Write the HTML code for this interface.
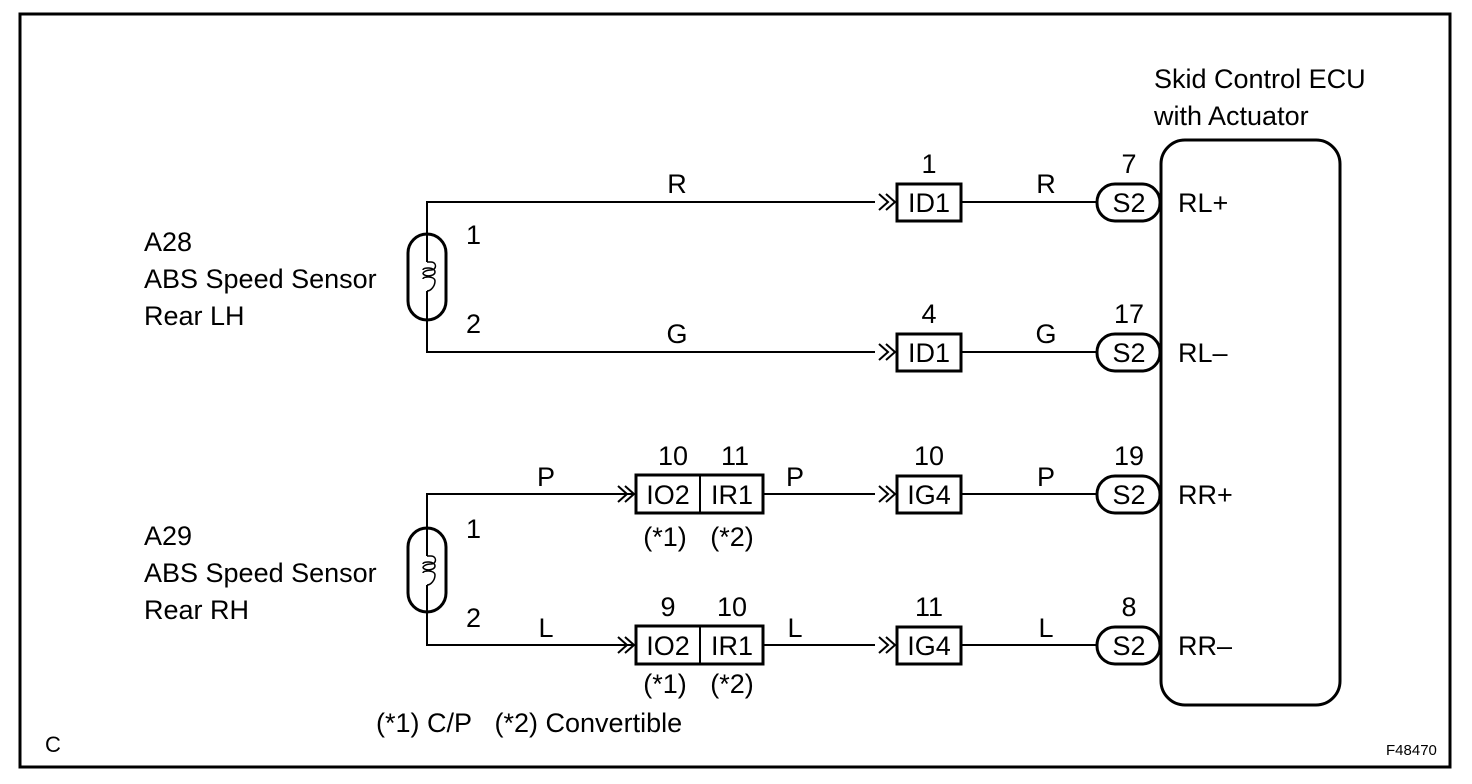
<!DOCTYPE html>
<html><head><style>body{margin:0;background:#fff}svg{display:block}</style></head><body>
<svg width="1472" height="784" viewBox="0 0 1472 784" xmlns="http://www.w3.org/2000/svg" font-family="Liberation Sans, Arial, sans-serif" font-size="27" fill="#000">
<rect x="20" y="14" width="1430" height="753" fill="none" stroke="#000" stroke-width="3"/>
<g stroke="#000" stroke-width="2" fill="none">
<polyline points="875,202 427,202 427,352 875,352"/>
<polyline points="634,494 427,494 427,645 634,645"/>
<line x1="763" y1="494" x2="875" y2="494"/>
<line x1="763" y1="645" x2="875" y2="645"/>
<line x1="961" y1="202" x2="1097" y2="202"/>
<line x1="961" y1="352" x2="1097" y2="352"/>
<line x1="961" y1="494" x2="1097" y2="494"/>
<line x1="961" y1="645" x2="1097" y2="645"/>
</g>
<g stroke="#000" stroke-width="3" fill="none">
<rect x="408" y="234" width="38" height="86" rx="19" fill="#fff"/>
<rect x="408" y="528" width="38" height="84" rx="19" fill="#fff"/>
<rect x="1161" y="140" width="179" height="565" rx="24"/>
<rect x="897" y="184" width="64" height="37"/>
<rect x="897" y="334" width="64" height="37"/>
<rect x="897" y="476" width="64" height="37"/>
<rect x="897" y="627" width="64" height="37"/>
<rect x="636" y="475" width="127" height="38"/>
<rect x="636" y="626" width="127" height="38"/>
<line x1="700" y1="475" x2="700" y2="513" stroke-width="2"/>
<line x1="700" y1="626" x2="700" y2="664" stroke-width="2"/>
<rect x="1097" y="184" width="63" height="37" rx="18"/>
<rect x="1097" y="334" width="63" height="37" rx="18"/>
<rect x="1097" y="476" width="63" height="37" rx="18"/>
<rect x="1097" y="627" width="63" height="37" rx="18"/>
</g>
<g stroke="#000" stroke-width="1.5" fill="none">
<line x1="427" y1="234" x2="427" y2="262" stroke-width="2"/>
<line x1="427" y1="291" x2="427" y2="320" stroke-width="2"/>
<line x1="427" y1="528" x2="427" y2="556" stroke-width="2"/>
<line x1="427" y1="585" x2="427" y2="612" stroke-width="2"/>
<path d="M427,262 h4 c6,0 6,8 0,8 c-6,0 -8,3 -8,3 M423,270 c0,-3 12,-3 12,2 c0,5 -12,5 -12,1 M423,279 c0,-3 12,-3 12,2 c0,5 -4,10 -8,10"/>
<path d="M427,556 h4 c6,0 6,8 0,8 c-6,0 -8,3 -8,3 M423,564 c0,-3 12,-3 12,2 c0,5 -12,5 -12,1 M423,573 c0,-3 12,-3 12,2 c0,5 -4,10 -8,10"/>
</g>
<g stroke="#000" stroke-width="2" fill="none">
<path d="M879,194 l9,8 l-9,8 M886,194 l9,8 l-9,8"/>
<path d="M879,344 l9,8 l-9,8 M886,344 l9,8 l-9,8"/>
<path d="M879,486 l9,8 l-9,8 M886,486 l9,8 l-9,8"/>
<path d="M879,637 l9,8 l-9,8 M886,637 l9,8 l-9,8"/>
<path d="M618,486 l9,8 l-9,8 M625,486 l9,8 l-9,8"/>
<path d="M618,637 l9,8 l-9,8 M625,637 l9,8 l-9,8"/>
</g>
<g text-anchor="middle">
<text x="929" y="212">ID1</text><text x="929" y="362">ID1</text>
<text x="929" y="504">IG4</text><text x="929" y="655">IG4</text>
<text x="668" y="504">IO2</text><text x="732" y="504">IR1</text>
<text x="668" y="655">IO2</text><text x="732" y="655">IR1</text>
<text x="1129" y="212">S2</text><text x="1129" y="362">S2</text>
<text x="1129" y="504">S2</text><text x="1129" y="655">S2</text>
<text x="929" y="173">1</text><text x="929" y="323">4</text>
<text x="929" y="465">10</text><text x="929" y="616">11</text>
<text x="1129" y="173">7</text><text x="1129" y="323">17</text>
<text x="1129" y="465">19</text><text x="1129" y="616">8</text>
<text x="673" y="465">10</text><text x="735" y="465">11</text>
<text x="668" y="616">9</text><text x="732" y="616">10</text>
<text x="665" y="546">(*1)</text><text x="732" y="546">(*2)</text>
<text x="665" y="693">(*1)</text><text x="732" y="693">(*2)</text>
<text x="677" y="193">R</text><text x="677" y="343">G</text>
<text x="1046" y="193">R</text><text x="1046" y="343">G</text>
<text x="546" y="486">P</text><text x="795" y="486">P</text><text x="1046" y="486">P</text>
<text x="546" y="637">L</text><text x="795" y="637">L</text><text x="1046" y="637">L</text>
</g>
<text x="466" y="244">1</text><text x="466" y="333">2</text>
<text x="466" y="538">1</text><text x="466" y="627">2</text>
<text x="1178" y="212">RL+</text><text x="1178" y="362">RL–</text>
<text x="1178" y="504">RR+</text><text x="1178" y="655">RR–</text>
<text x="1154" y="88">Skid Control ECU</text>
<text x="1154" y="125">with Actuator</text>
<text x="144" y="251">A28</text><text x="144" y="288">ABS Speed Sensor</text><text x="144" y="325">Rear LH</text>
<text x="144" y="545">A29</text><text x="144" y="582">ABS Speed Sensor</text><text x="144" y="619">Rear RH</text>
<text x="376" y="732">(*1) C/P&#160;&#160;&#160;(*2) Convertible</text>
<text x="45" y="752" font-size="22">C</text>
<text x="1386" y="755" font-size="15">F48470</text>
</svg>
</body></html>
